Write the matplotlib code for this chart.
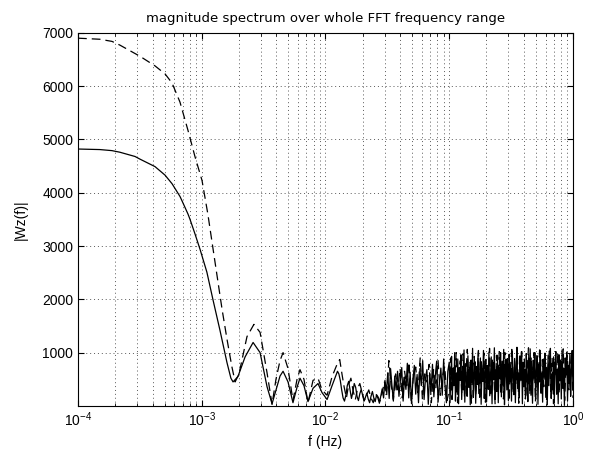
import matplotlib
matplotlib.use("Agg")
import matplotlib.pyplot as plt
import numpy as np

plt.rcParams['font.family'] = ['Liberation Sans', 'DejaVu Sans']

# smooth low-frequency part
f_solid = [1.0e-4, 1.5e-4, 1.88e-4, 2.18e-4, 2.89e-4, 3.17e-4, 4.19e-4, 5.05e-4,
           5.75e-4, 6.67e-4, 6.92e-4, 7.74e-4, 8.04e-4, 8.81e-4, 9.68e-4, 1.10e-3,
           1.23e-3, 1.40e-3, 1.60e-3, 1.72e-3, 1.79e-3, 1.96e-3, 2.24e-3, 2.60e-3,
           2.96e-3, 3.37e-3, 3.70e-3, 3.98e-3, 4.29e-3, 4.54e-3, 4.98e-3, 5.46e-3,
           5.89e-3, 6.22e-3, 6.70e-3, 7.22e-3, 7.93e-3, 8.70e-3, 9.37e-3, 1.03e-2,
           1.13e-2]
w_solid = [4820, 4810, 4790, 4760, 4680, 4630, 4490, 4330,
           4170, 3930, 3850, 3600, 3500, 3230, 2940, 2510,
           2000, 1430, 810, 520, 450, 550, 920, 1190,
           1000, 360, 40, 300, 560, 650, 450, 60,
           350, 520, 380, 80, 330, 420, 250, 120,
           380]

f_dash = [1.0e-4, 1.5e-4, 1.88e-4, 2.18e-4, 3.17e-4, 4.19e-4, 5.05e-4, 5.75e-4,
          6.67e-4, 7.74e-4, 8.81e-4, 1.005e-3, 1.12e-3, 1.21e-3, 1.33e-3, 1.46e-3,
          1.60e-3, 1.75e-3, 1.86e-3, 2.0e-3, 2.32e-3, 2.64e-3, 2.96e-3, 3.37e-3,
          3.70e-3, 3.98e-3, 4.29e-3, 4.54e-3, 4.98e-3, 5.46e-3, 5.89e-3, 6.22e-3,
          6.70e-3, 7.22e-3, 7.93e-3, 8.70e-3, 9.37e-3, 1.03e-2, 1.13e-2]
w_dash = [6900, 6880, 6840, 6770, 6560, 6380, 6230, 6060,
          5700, 5170, 4680, 4230, 3600, 3080, 2430, 1810,
          1250, 740, 450, 600, 1300, 1530, 1380, 620,
          30, 500, 850, 1000, 700, 100, 500, 680,
          500, 60, 480, 520, 300, 200, 550]

# noisy part, 0.0125 .. 0.1 Hz
noise_solid_mid = [650, 600, 480, 300, 150, 90, 200,
                   380, 460, 300, 140, 260, 420, 350, 180, 100, 230,
                   310, 200, 90, 160, 240, 130, 60, 180, 270, 150, 80, 210, 140, 50, 190,
                   320, 150, 480, 260, 620, 140, 700, 380, 90, 560, 300, 650, 180, 470,
                   720, 90, 540, 310, 800, 150, 630, 40, 480, 760, 220, 590, 60, 700,
                   380, 850, 120, 520, 680, 30, 610, 290, 780, 170, 560, 840, 70, 430,
                   710, 200, 880, 350, 60, 650]
noise_dash_mid = [800, 870, 600, 350,
                  150, 400, 520, 280, 120, 330,
                  420, 250, 100, 200, 300, 150, 60, 220, 180, 90,
                  250, 450, 200, 850, 400, 120, 600, 300, 700,
                  150, 650, 380, 820, 80, 560, 730, 250, 900, 120, 600,
                  450, 780, 60, 680, 330, 850, 200, 560, 740, 100]

# noisy part, 0.1 .. 1 Hz
noise_solid_hi = [820, 60, 540, 930, 150, 700, 380, 1000, 90, 610,
                  260, 880, 40, 720, 480, 960, 120, 650, 300, 1050,
                  70, 790, 520, 180, 940, 350, 680, 20, 860, 440,
                  1080, 160, 600, 830, 50, 740, 400, 990, 230, 580,
                  900, 30, 700, 460, 1040, 140, 620, 870, 80, 760,
                  350, 1010, 190, 560, 920, 40, 810, 490, 1090, 120,
                  680, 270, 950, 60, 730, 520, 1000, 170, 840, 390,
                  1060, 20, 640, 880, 300, 780, 100, 970, 450, 700,
                  90, 1030, 560, 210, 890, 60, 760, 1100, 330, 620,
                  150, 940, 480, 1020, 40, 820, 360, 690, 130, 980,
                  570, 80, 900, 410, 1070, 200, 730, 50, 860, 520,
                  1000, 110, 660, 940, 30, 780, 450, 1040, 260, 610,
                  70, 880, 540, 990, 160, 720, 20, 950, 380, 830,
                  1080, 140, 600, 300, 920, 60, 790, 1020, 220, 690,
                  40, 960, 470, 840, 130, 1050, 330, 710, 10, 900,
                  580, 1010, 90, 760, 420, 970, 180, 650, 1040, 300]
noise_dash_hi = [300, 900, 120, 760, 520, 1000, 60, 680, 850, 240,
                 980, 150, 620, 1060, 380, 820, 40, 720, 930, 200,
                 560, 1040, 110, 880, 460, 990, 70, 740, 310, 1080,
                 180, 860, 600, 30, 950, 420, 1020, 260, 780, 130,
                 1000, 540, 900, 90, 700, 1060, 240, 830, 400, 970,
                 50, 760, 1020, 330, 880, 150, 640, 1090, 210, 920,
                 480, 1000, 80, 790, 560, 1050, 190, 870, 360, 960,
                 120, 700, 1030, 270, 900, 40, 820, 580, 1000, 230,
                 860, 420, 1070, 100, 750, 940, 300, 680, 1010, 150]

fs = np.concatenate([f_solid,
                     np.geomspace(0.0125, 0.1, len(noise_solid_mid), endpoint=False),
                     np.geomspace(0.1, 1.0, len(noise_solid_hi))])
ws = np.concatenate([w_solid, noise_solid_mid, noise_solid_hi])
fd = np.concatenate([f_dash,
                     np.geomspace(0.0125, 0.1, len(noise_dash_mid), endpoint=False),
                     np.geomspace(0.1, 1.0, len(noise_dash_hi))])
wd = np.concatenate([w_dash, noise_dash_mid, noise_dash_hi])

fig = plt.figure(figsize=(5.91, 4.5), dpi=100)
ax = fig.add_axes([0.132, 0.098, 0.8375, 0.829])

ax.plot(fs, ws, '-', color='k', lw=0.9)
ax.plot(fd, wd, '--', color='k', lw=0.9, dashes=(7, 4))

ax.set_xscale('log')
ax.set_xlim(1e-4, 1)
ax.set_ylim(0, 7000)
ax.set_yticks(range(1000, 8000, 1000))

grid_style = dict(ls=(0, (1, 3)), color='0.35', lw=0.7)
ax.grid(True, which='major', **grid_style)
ax.grid(True, which='minor', axis='x', **grid_style)
ax.tick_params(which='both', direction='in', top=True, right=True, labelsize=10)
ax.tick_params(which='major', length=4)
ax.tick_params(which='minor', length=2)

ax.set_title('magnitude spectrum over whole FFT frequency range',
             fontsize=9.5, family='DejaVu Sans', pad=8)
ax.set_xlabel('f (Hz)', fontsize=10)
ax.set_ylabel('|Wz(f)|', fontsize=10, labelpad=10)

fig.savefig('out.png', dpi=100)
